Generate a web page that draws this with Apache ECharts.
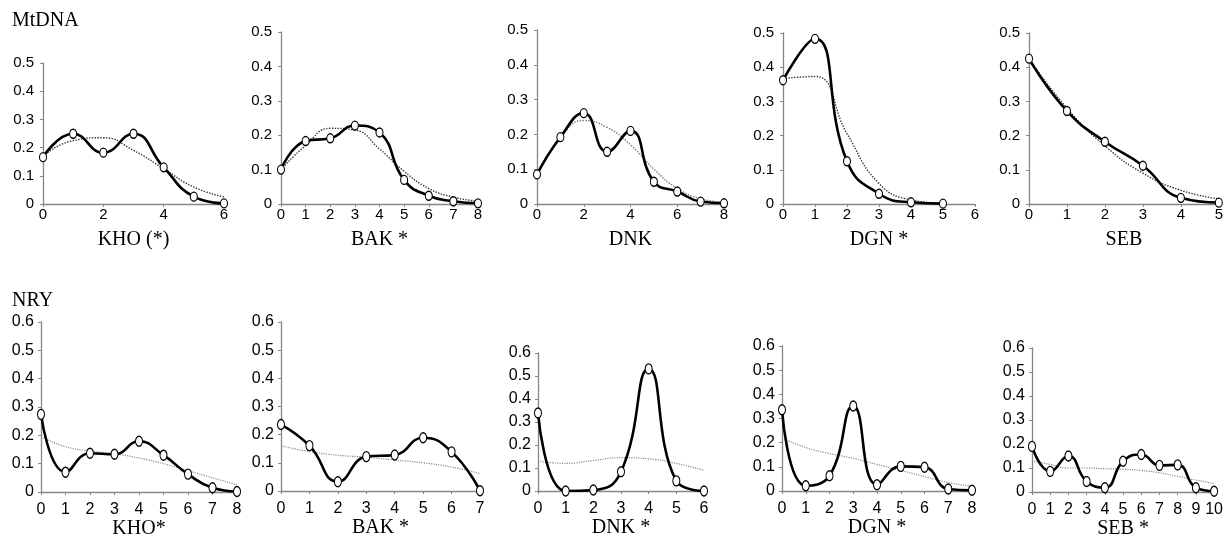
<!DOCTYPE html>
<html>
<head>
<meta charset="utf-8">
<script src="https://cdn.jsdelivr.net/npm/echarts@6/dist/echarts.min.js"></script>
<style>
html,body{margin:0;padding:0;background:#fff;}
#chart{width:1226px;height:544px;}
</style>
</head>
<body>
<div id="chart"></div>
<script>
// ---- Data ----
const rowTitles = ['MtDNA', 'NRY'];
const xNamesRow1 = ['KHO (*)', 'BAK *', 'DNK', 'DGN *', 'SEB'];
const xNamesRow2 = ['KHO*', 'BAK *', 'DNK *', 'DGN *', 'SEB *'];
const xMaxRow1 = [6, 8, 8, 6, 5];
const xStepRow1 = [2, 1, 2, 1, 1];
const xMaxRow2 = [8, 7, 6, 8, 10];
const xStepRow2 = [1, 1, 1, 1, 1];
const yMaxRow1 = 0.5;
const yMaxRow2 = 0.6;
const yStep = 0.1;

// MtDNA observed / expected
const obsMtKHO = [0.166, 0.249, 0.182, 0.249, 0.130, 0.026, 0.002];
const expMtKHO = [0.170, 0.225, 0.235, 0.190, 0.125, 0.060, 0.025];
const obsMtBAK = [0.100, 0.183, 0.191, 0.228, 0.208, 0.070, 0.024, 0.008, 0.002];
const expMtBAK = [0.100, 0.170, 0.220, 0.215, 0.160, 0.095, 0.045, 0.020, 0.008];
const obsMtDNK = [0.085, 0.192, 0.261, 0.150, 0.210, 0.064, 0.036, 0.007, 0.002];
const expMtDNK = [0.085, 0.190, 0.240, 0.220, 0.170, 0.100, 0.045, 0.015, 0.005];
const obsMtDGN = [0.362, 0.483, 0.125, 0.030, 0.005, 0.001];
const expMtDGN = [0.367, 0.373, 0.206, 0.060, 0.012, 0.002];
const obsMtSEB = [0.425, 0.272, 0.182, 0.112, 0.018, 0.004];
const expMtSEB = [0.425, 0.280, 0.170, 0.090, 0.040, 0.015];

// NRY observed / expected
const obsYKHO = [0.274, 0.070, 0.137, 0.133, 0.179, 0.130, 0.063, 0.015, 0.002];
const expYKHO = [0.195, 0.160, 0.145, 0.135, 0.120, 0.100, 0.075, 0.050, 0.025];
const obsYBAK = [0.236, 0.161, 0.033, 0.122, 0.128, 0.189, 0.139, 0.001];
const expYBAK = [0.160, 0.140, 0.127, 0.120, 0.110, 0.100, 0.085, 0.062];
const obsYDNK = [0.339, 0.000, 0.004, 0.084, 0.531, 0.044, 0.000];
const expYDNK = [0.130, 0.120, 0.133, 0.145, 0.140, 0.120, 0.090];
const obsYDGN = [0.336, 0.022, 0.063, 0.352, 0.026, 0.102, 0.098, 0.008, 0.003];
const expYDGN = [0.220, 0.180, 0.155, 0.135, 0.110, 0.085, 0.060, 0.035, 0.020];
const obsYSEB = [0.190, 0.086, 0.150, 0.044, 0.018, 0.128, 0.156, 0.111, 0.113, 0.018, 0.003];
const expYSEB = [0.130, 0.115, 0.100, 0.100, 0.097, 0.095, 0.090, 0.080, 0.065, 0.050, 0.035];

// ---- Layout ----
const gridBoxes = [
  [43, 63, 224, 204], [281, 32, 478, 204], [537, 30, 724, 204], [783, 33, 975, 204], [1029, 33, 1227, 204],
  [41, 322, 237, 492], [281, 322, 480, 491], [538, 353, 704, 491], [782, 346, 972, 491], [1032, 348, 1215, 492]
];
const obsAll = [obsMtKHO, obsMtBAK, obsMtDNK, obsMtDGN, obsMtSEB, obsYKHO, obsYBAK, obsYDNK, obsYDGN, obsYSEB];
const expAll = [expMtKHO, expMtBAK, expMtDNK, expMtDGN, expMtSEB, expYKHO, expYBAK, expYDNK, expYDGN, expYSEB];
const names = xNamesRow1.concat(xNamesRow2);
const xMax = xMaxRow1.concat(xMaxRow2);
const xStep = xStepRow1.concat(xStepRow2);

const sans = 'Liberation Sans, Arial, sans-serif';
const serif = 'Liberation Serif, Times New Roman, serif';
const axisGray = '#868686';

const grid = [], xAxis = [], yAxis = [], series = [];
for (let i = 0; i < 10; i++) {
  const row2 = i >= 5;
  const b = gridBoxes[i];
  grid.push({left: b[0], top: b[1], width: b[2] - b[0], height: b[3] - b[1], containLabel: false});
  xAxis.push({
    type: 'value', gridIndex: i, min: 0, max: xMax[i], interval: xStep[i],
    name: names[i], nameLocation: 'middle', nameGap: row2 ? 26 : 26,
    nameTextStyle: {fontFamily: serif, fontSize: 20, color: '#000'},
    axisLine: {show: true, onZero: false, lineStyle: {color: axisGray, width: 1.3}},
    axisTick: {show: true, length: 3, lineStyle: {color: axisGray}},
    axisLabel: {fontFamily: sans, fontSize: row2 ? 16 : 15, color: '#000', margin: row2 ? 10 : 3, showMaxLabel: true},
    splitLine: {show: false}
  });
  yAxis.push({
    type: 'value', gridIndex: i, min: 0, max: row2 ? yMaxRow2 : yMaxRow1, interval: yStep,
    axisLine: {show: true, lineStyle: {color: axisGray, width: 1.3}},
    axisTick: {show: true, length: 3, lineStyle: {color: axisGray}},
    axisLabel: {fontFamily: sans, fontSize: row2 ? 16 : 15, color: '#000', margin: row2 ? 7 : 9},
    splitLine: {show: false}
  });
  const expColor = row2 ? '#8a8a8a' : (i === 2 ? '#777' : '#333');
  series.push({
    type: 'line', xAxisIndex: i, yAxisIndex: i, smooth: true, symbol: 'none', z: 2,
    data: expAll[i].map((v, k) => [k, v]),
    lineStyle: {color: expColor, width: row2 ? 1.2 : 1.4, type: 'dotted'}
  });
  series.push({
    type: 'line', xAxisIndex: i, yAxisIndex: i, smooth: true, z: 3,
    symbol: 'circle', symbolSize: row2 ? [7, 10] : [7, 9],
    itemStyle: {color: '#fff', borderColor: '#000', borderWidth: 1.2},
    data: obsAll[i].map((v, k) => [k, v]),
    lineStyle: {color: '#000', width: 2.6}
  });
}

const chart = echarts.init(document.getElementById('chart'), null, {renderer: 'canvas'});
chart.setOption({
  animation: false,
  backgroundColor: '#fff',
  title: [
    {text: rowTitles[0], left: 12, top: 11, padding: 0, textStyle: {fontFamily: serif, fontSize: 20, fontWeight: 'normal', color: '#000'}},
    {text: rowTitles[1], left: 12, top: 291, padding: 0, textStyle: {fontFamily: serif, fontSize: 20, fontWeight: 'normal', color: '#000'}}
  ],
  grid: grid, xAxis: xAxis, yAxis: yAxis, series: series
});
</script>
</body>
</html>
